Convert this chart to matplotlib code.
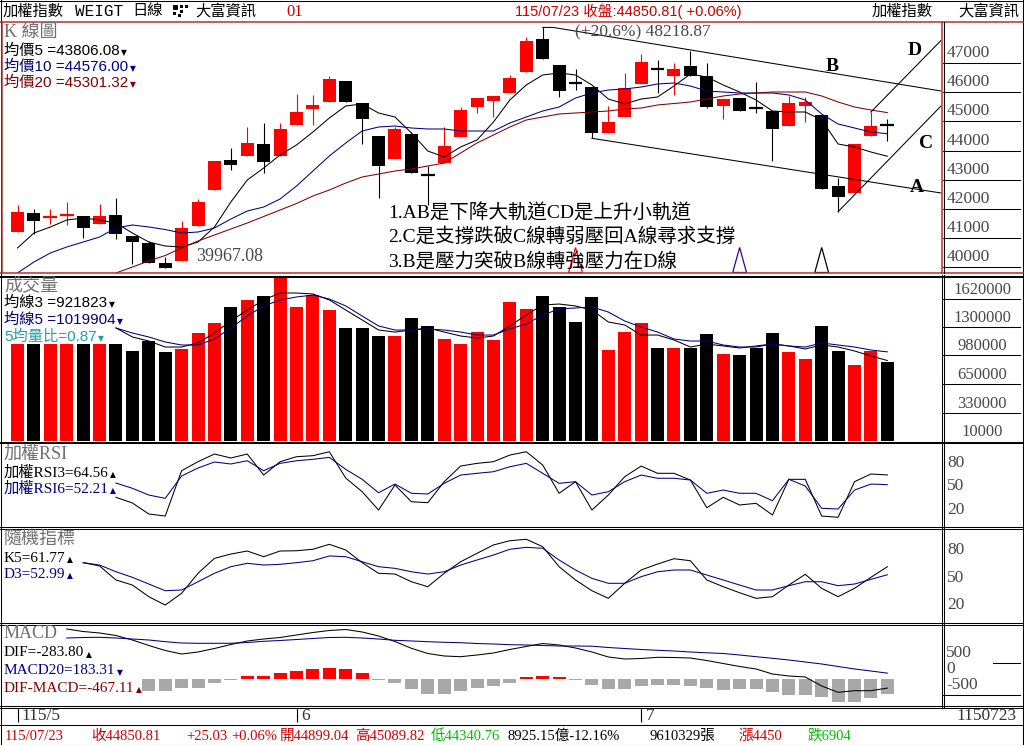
import matplotlib
matplotlib.use('Agg')
import matplotlib.pyplot as plt
from matplotlib.lines import Line2D
from matplotlib.patches import Rectangle, Polygon
from matplotlib.transforms import offset_copy, blended_transform_factory
import numpy as np

# ---------------- data ----------------
opens = [41222, 41862, 41725, 41770, 41760, 41486, 41794, 41075, 40845, 40150,
         40229, 41428, 42650, 43678, 43825, 44226, 43825, 44887, 45414, 45675,
         46384, 45630, 44500, 43702, 44568, 43175, 43585, 44455, 45504, 45709,
         45983, 46702, 47822, 46931, 46360, 46168, 44613, 45161, 46270, 46830,
         46555, 46897, 46555, 45527, 45791, 45470, 45356, 44853, 45527, 45219,
         42787, 42557, 44500, 44899.04]
highs = [42137, 42000, 41990, 42230, 41760, 42171, 42385, 41075, 40914, 40367,
         41589, 42342, 43654, 44078, 44820, 44957, 44957, 45938, 45904, 46555,
         46384, 45630, 44500, 44820, 44650, 43472, 44798, 45481, 45801, 45870,
         46589, 47900, 48218.87, 46931, 46805, 46168, 45527, 46668, 47308, 47100,
         46990, 47421, 46990, 45757, 45791, 46360, 45356, 45870, 45846, 45219,
         43061, 44226, 45322, 45089.82]
lows = [41200, 41143, 41486, 41452, 41000, 41486, 40972, 40116, 40140, 39967.08,
        40229, 41428, 42650, 43335, 43825, 43244, 43825, 44887, 44887, 45675,
        45675, 44226, 42364, 43702, 43222, 42137, 43585, 44455, 45276, 45161,
        45983, 46702, 47127, 45846, 46073, 44421, 44613, 45161, 46270, 45962,
        45904, 46555, 45449, 45072, 45366, 45287, 43654, 44853, 44990, 42674,
        41907, 42557, 44500, 44340.76]
closes = [41897, 41600, 41745, 41790, 41360, 41760, 41143, 40880, 40140, 39990,
          41359, 42250, 43654, 43507, 44270, 43620, 44740, 45322, 45572, 46442,
          45675, 45093, 43483, 44729, 43222, 43140, 44157, 45390, 45801, 45870,
          46476, 47754, 47127, 46051, 46300, 44592, 44990, 46133, 47045, 46790,
          46784, 46555, 45483, 45757, 45366, 45440, 44740, 45630, 45674, 42674,
          42421, 44226, 44825.78, 44850.81]
volumes = [1109000, 1109000, 1109000, 1109000, 1109000, 1109000, 1109000, 1030000, 1143000, 1018000,
           1052000, 1234000, 1348000, 1529000, 1609000, 1654000, 1858000, 1529000, 1665000, 1495000,
           1291000, 1291000, 1200000, 1200000, 1404000, 1314000, 1166000, 1109000, 1245000, 1155000,
           1586000, 1507000, 1654000, 1529000, 1359000, 1643000, 1041000, 1245000, 1348000, 1064000,
           1064000, 1064000, 1223000, 996000, 984000, 1064000, 1234000, 1018000, 939000, 1314000,
           1030000, 871000, 1030000, 905000]

ma5 = [40664, 41178, 41383, 41623, 41691, 41623, 41520, 41178, 40869, 40732,
       40698, 40869, 41383, 42239, 42993, 43404, 43849, 44192, 44637, 45116,
       45527, 45596, 45288, 45151, 44603, 43986, 43781, 44124, 44363, 44979,
       45733, 46247, 46589, 46658, 46589, 46247, 45767, 45596, 45767, 45836,
       46212, 46623, 46521, 46247, 46007, 45733, 45356, 45322, 45322, 45048,
       44226, 44123, 43952, 43806.08]
ma10 = [39808, 40184, 40493, 40698, 40869, 41040, 41349, 41452, 41383, 41297,
        41178, 41212, 41349, 41657, 41931, 42068, 42342, 42787, 43301, 43815,
        44260, 44671, 44808, 44842, 44774, 44740, 44740, 44671, 44671, 44671,
        44945, 45151, 45356, 45493, 45801, 45973, 46075, 46110, 46178, 46281,
        46315, 46212, 46041, 46007, 45973, 45973, 45973, 45904, 45733, 45253,
        44911, 44774, 44637, 44576.00]
ma20 = [39808, 40013, 40219, 40407, 40664, 40904, 41109, 41315, 41520, 41743,
        41965, 42188, 42445, 42650, 42890, 43096, 43198, 43301, 43370, 43472,
        43575, 43918, 44260, 44534, 44808, 45048, 45151, 45253, 45288, 45322,
        45356, 45425, 45459, 45562, 45613, 45664, 45767, 45870, 45938, 45973,
        46007, 46007, 46007, 45870, 45664, 45493, 45390, 45301.32]          # from bar 7
vol_ma3 = [1291000, 1189000, 1143000, 1075000, 1075000, 1121000, 1234000, 1370000, 1495000, 1609000,
           1688000, 1688000, 1677000, 1609000, 1495000, 1382000, 1268000, 1245000, 1268000, 1291000,
           1245000, 1200000, 1177000, 1200000, 1314000, 1438000, 1552000, 1563000, 1541000, 1495000,
           1359000, 1325000, 1211000, 1211000, 1155000, 1075000, 1109000, 1087000, 1064000, 1087000,
           1109000, 1087000, 1053000, 1098000, 1075000, 1030000, 973000, 921823]      # from bar 7
vol_ma5 = [1291000, 1234000, 1189000, 1132000, 1098000, 1098000, 1166000, 1291000, 1427000, 1541000,
           1609000, 1643000, 1665000, 1620000, 1541000, 1427000, 1314000, 1268000, 1268000, 1280000,
           1268000, 1245000, 1211000, 1211000, 1280000, 1336000, 1438000, 1507000, 1518000, 1530000,
           1472000, 1370000, 1302000, 1245000, 1166000, 1143000, 1143000, 1098000, 1075000, 1075000,
           1109000, 1087000, 1075000, 1121000, 1098000, 1075000, 1041000, 1019904]   # from bar 7
rsi3 = [36.2, 29.0, 15.1, 12.5, 69.9, 81.3, 91.0, 86.0, 91.0, 64.4,
        81.3, 87.6, 88.9, 93.9, 60.6, 43.3, 20.1, 51.8, 30.6, 29.4,
        56.0, 75.8, 79.2, 81.3, 89.7, 93.9, 77.1, 41.3, 56.0, 20.1,
        39.1, 62.3, 75.8, 66.6, 66.6, 58.1, 23.0, 36.2, 26.5, 28.6,
        13.8, 59.0, 59.0, 12.5, 10.9, 56.0, 65.7, 64.56]                    # from bar 7
rsi6 = [54.3, 47.6, 39.1, 34.9, 63.2, 73.3, 80.9, 78.4, 82.5, 69.9,
        79.2, 82.5, 84.3, 86.8, 71.6, 59.0, 42.0, 53.0, 41.3, 40.4,
        53.9, 64.4, 66.6, 68.6, 74.9, 79.2, 66.6, 53.9, 56.0, 39.1,
        43.3, 56.0, 64.4, 60.3, 60.3, 58.1, 41.3, 45.4, 41.3, 41.3,
        31.9, 59.0, 50.5, 22.3, 21.4, 45.4, 53.0, 52.21]                    # from bar 7
k5 = [66.2, 62.6, 47.3, 41.8, 29.1, 20.0, 32.8, 54.6, 70.9, 75.6,
      78.9, 72.7, 78.9, 79.2, 80.8, 86.2, 80.0, 66.2, 54.6, 53.8,
      45.4, 40.0, 54.6, 67.2, 76.4, 85.5, 90.1, 91.7, 83.6, 61.8,
      47.3, 35.6, 27.3, 43.7, 58.2, 64.7, 70.5, 68.3, 47.3, 40.0,
      33.4, 27.3, 29.1, 41.8, 53.5, 38.2, 29.1, 38.2, 50.2, 61.77]          # from bar 5
d3 = [66.2, 63.6, 56.3, 50.2, 42.9, 35.6, 36.4, 45.4, 54.6, 61.8,
      65.5, 63.6, 64.4, 66.2, 68.3, 73.5, 72.7, 67.2, 61.8, 60.0,
      56.3, 53.8, 56.3, 63.6, 69.1, 74.5, 80.8, 82.9, 81.9, 69.1,
      58.2, 49.1, 43.7, 43.7, 50.9, 56.3, 58.2, 58.2, 52.7, 47.3,
      41.8, 36.4, 36.4, 41.1, 45.4, 45.4, 41.1, 42.9, 48.0, 52.99]          # from bar 5
dif = [1563, 1484, 1438, 1359, 1219, 1047, 891, 781, 844, 953,
       1078, 1188, 1250, 1297, 1375, 1453, 1516, 1547, 1469, 1344,
       1172, 959, 797, 719, 697, 750, 813, 922, 1016, 1109,
       1063, 969, 844, 688, 625, 641, 678, 672, 656, 578,
       484, 391, 313, 156, 94, 63, -219, -416, -366, -366, -283.80]          # from bar 4
macd20 = [1281, 1297, 1303, 1281, 1250, 1219, 1166, 1125, 1116, 1116,
          1116, 1141, 1178, 1203, 1234, 1266, 1297, 1303, 1281, 1250,
          1209, 1188, 1166, 1147, 1134, 1109, 1094, 1072, 1063, 1047,
          1031, 1031, 1025, 984, 953, 922, 897, 875, 844, 819,
          797, 750, 697, 647, 594, 531, 469, 391, 313, 250, 183.31]         # from bar 4
osc = [-365, -365, -292, -271, -115, -30, 104, 104, 177, 260,
       302, 344, 302, 198, -30, -135, -313, -469, -469, -365,
       -292, -219, -135, 52, 94, 52, -30, -188, -313, -313,
       -208, -188, -188, -208, -292, -344, -323, -323, -396, -500,
       -500, -573, -729, -708, -604, -467.11]                               # from bar 9

price_ticks = [40000, 41000, 42000, 43000, 44000, 45000, 46000, 47000]
volume_ticks = [10000, 330000, 650000, 980000, 1300000, 1620000]
rsi_ticks = [20, 50, 80]
kd_ticks = [20, 50, 80]
macd_ticks = [-500, 0, 500]
date_tick_idx = [0, 17, 38]
date_tick_labels = ['115/5', '6', '7']

# hand-drawn trend lines: (bar index, price) end points
line_B = ([32, 32.63, 56.27], [48218.87, 48218.87, 46041])
line_A = ([35, 56.27], [44421, 42548])
line_C = ([50, 56.27], [41907, 45527])
line_D = ([52, 56.27], [45322, 47771])
line_labels = [('B', 49.63, 46897), ('D', 54.69, 47445), ('C', 55.36, 44226), ('A', 54.81, 42719)]
marker_idx = [34, 44, 49]
marker_cols = ['#FF0000', '#400080', '#000000']
notes = ['1.AB是下降大軌道CD是上升小軌道',
         '2.C是支撐跌破C線轉弱壓回A線尋求支撐',
         '3.B是壓力突破B線轉強壓力在D線']

# ---------------- figure ----------------
W, H = 1024, 745
fig = plt.figure(figsize=(W / 100, H / 100), dpi=100)
fig.patch.set_facecolor('white')

SERIF = ['Liberation Serif', 'Noto Sans CJK TC', 'DejaVu Sans']
SANS = ['Liberation Sans', 'Noto Sans CJK TC', 'DejaVu Sans']
MONO = ['Liberation Mono', 'Noto Sans CJK TC', 'DejaVu Sans']
CJK = ['Noto Sans CJK TC', 'DejaVu Sans']
RED = '#FF0000'
NAVY = '#000080'
DRED = '#800000'
TITLEG = '#707070'
LAB = '#484848'
FRAME_RED = '#B83030'
XLIM = (-0.945, 56.27)


def px_axes(x0, y0, x1, y1):
    ax = fig.add_axes([x0 / W, 1 - y1 / H, (x1 - x0) / W, (y1 - y0) / H])
    ax.set_xticks([])
    ax.set_yticks([])
    for s in ax.spines.values():
        s.set_visible(False)
    ax.patch.set_alpha(0)
    return ax


def fline(xs, ys, color='black', lw=0.75):
    fig.add_artist(Line2D([x / W for x in xs], [1 - y / H for y in ys],
                          color=color, lw=lw, transform=fig.transFigure))


def ftext(x, y, s, **kw):
    kw.setdefault('va', 'center')
    kw.setdefault('ha', 'left')
    return fig.text(x / W, 1 - y / H, s, **kw)


legend_marks = []


def legend(x, y, s, color, mark=None, size=11, family=SANS):
    t = ftext(x, y, s, color=color, fontsize=size, family=family)
    if mark:
        legend_marks.append((t, mark, color))
    return t


idx = np.arange(len(closes))
o_arr = np.array(opens, float)
c_arr = np.array(closes, float)
up = c_arr >= o_arr
cols = np.where(up, RED, 'black')

# ---------- K panel ----------
axk = px_axes(2, 22.5, 941, 272.5)
axk.set_xlim(XLIM)
axk.set_ylim(39825, 48387)
axk.vlines(idx, lows, highs, colors=cols, lw=0.8, zorder=2)
body_lo = np.minimum(o_arr, c_arr)
body_h = np.abs(c_arr - o_arr)
doji = body_h <= 60
axk.bar(idx[~doji], body_h[~doji], bottom=body_lo[~doji], width=0.79,
        color=cols[~doji], linewidth=0, zorder=3)
axk.hlines((o_arr[doji] + c_arr[doji]) / 2, idx[doji] - 0.42, idx[doji] + 0.42,
           colors=cols[doji], lw=1.6, zorder=3)
axk.plot(idx, ma5, color='black', lw=0.75, zorder=4)
axk.plot(idx, ma10, color=NAVY, lw=0.75, zorder=4)
axk.plot(idx[6:], ma20, color=DRED, lw=0.75, zorder=4)
for ln in (line_B, line_A, line_C, line_D):
    axk.plot(ln[0], ln[1], color='black', lw=0.75, zorder=5)
for lab, lx, ly in line_labels:
    axk.text(lx, ly, lab, family=SERIF, fontsize=14, fontweight='bold',
             ha='center', va='center', zorder=6)
tb = blended_transform_factory(axk.transData, axk.transAxes)
for mi, mc in zip(marker_idx, marker_cols):
    axk.add_patch(Polygon([(mi - 0.42, 0.0), (mi, 0.1), (mi + 0.42, 0.0)], closed=True,
                          fill=False, edgecolor=mc, lw=0.9, transform=tb, zorder=5))
axk.text(10.88, 40356, '39967.08', family=SERIF, fontsize=13, color=LAB,
         ha='left', va='center', zorder=6)
axk.text(33.97, 48060, '(+20.6%) 48218.87', family=SERIF, fontsize=12.5, color=LAB,
         ha='left', va='center', zorder=6)
for k, s in enumerate(notes):
    ftext(388, 213 + 24.5 * k, s, family=SERIF, fontsize=14, color='black', zorder=10)

legend(4, 33, 'K 線圖', TITLEG, size=13, family=SERIF)
legend(4, 51, '均價5 =43806.08', 'black', '▼')
legend(4, 67, '均價10 =44576.00', NAVY, '▼')
legend(4, 83, '均價20 =45301.32', DRED, '▼')

# ---------- volume panel ----------
axv = px_axes(2, 277.5, 941, 441)
axv.set_xlim(XLIM)
axv.set_ylim(8300, 1864000)
axv.bar(idx, volumes, width=0.79, color=cols, linewidth=0, zorder=2)
axv.plot(idx[6:], vol_ma3, color='black', lw=0.75, zorder=3)
axv.plot(idx[6:], vol_ma5, color=NAVY, lw=0.75, zorder=3)
legend(4, 286, '成交量', TITLEG, size=13, family=SERIF)
legend(4, 303, '均線3 =921823', 'black', '▼')
legend(4, 320, '均線5 =1019904', NAVY, '▼')
legend(4, 337, '5均量比=0.87', '#1FA0A8', '▼')

# ---------- RSI panel ----------
axr = px_axes(2, 444, 941, 526)
axr.set_xlim(XLIM)
axr.set_ylim(-0.1, 103.7)
axr.plot(idx[6:], rsi3, color='black', lw=0.75)
axr.plot(idx[6:], rsi6, color=NAVY, lw=0.75)
legend(4, 454, '加權RSI', TITLEG, size=13, family=SERIF)
legend(4, 472.5, '加權RSI3=64.56', 'black', '▲', family=SERIF)
legend(4, 489, '加權RSI6=52.21', NAVY, '▲', family=SERIF)

# ---------- KD panel ----------
axd = px_axes(2, 529, 941, 622)
axd.set_xlim(XLIM)
axd.set_ylim(1.5, 102.9)
axd.plot(idx[4:], k5, color='black', lw=0.75)
axd.plot(idx[4:], d3, color=NAVY, lw=0.75)
legend(4, 539.5, '隨機指標', TITLEG, size=13, family=SERIF)
legend(4, 558, 'K5=61.77', 'black', '▲', family=SERIF)
legend(4, 574, 'D3=52.99', NAVY, '▲', family=SERIF)

# ---------- MACD panel ----------
axm = px_axes(2, 625, 941, 705)
axm.set_xlim(XLIM)
axm.set_ylim(-812.5, 1687.5)
osc_arr = np.array(osc)
axm.bar(idx[8:], osc_arr, width=0.79, color=np.where(osc_arr > 0, RED, '#A8A8A8'),
        linewidth=0, zorder=2)
axm.plot(idx[3:], dif, color='black', lw=0.75, zorder=3)
axm.plot(idx[3:], macd20, color=NAVY, lw=0.75, zorder=3)
legend(4, 634, 'MACD', TITLEG, size=13, family=SERIF)
legend(4, 653, 'DIF=-283.80', 'black', '▲', family=SERIF)
legend(4, 671, 'MACD20=183.31', NAVY, '▼', family=SERIF)
legend(4, 688, 'DIF-MACD=-467.11', DRED, '▲', family=SERIF)

# ---------- right-hand scale columns ----------
def rcol(y0, y1, ylim):
    a = px_axes(943, y0, 1021, y1)
    a.set_xlim(0, 1)
    a.set_ylim(ylim)
    return a


rk = rcol(22.5, 272.5, axk.get_ylim())
up10 = offset_copy(rk.transData, fig=fig, x=0, y=10, units='dots')
for v in price_ticks:
    rk.axhline(v, color='black', lw=0.75)
    rk.text(0.05, v, str(v), transform=up10, family=SERIF, fontsize=12.5, color=LAB,
            ha='left', va='center')

rv = rcol(277.5, 441, axv.get_ylim())
up9 = offset_copy(rv.transData, fig=fig, x=0, y=9, units='dots')
for v in volume_ticks:
    rv.axhline(v, color='black', lw=0.75)
    rv.text(0.5, v, str(v), transform=up9, family=SERIF, fontsize=12, color=LAB,
            ha='center', va='center')

rr = rcol(444, 526, axr.get_ylim())
for v in rsi_ticks:
    rr.text(0.05, v, str(v), family=SERIF, fontsize=12.5, color=LAB, ha='left', va='center')

rd = rcol(529, 622, axd.get_ylim())
for v in kd_ticks:
    rd.text(0.05, v, str(v), family=SERIF, fontsize=12.5, color=LAB, ha='left', va='center')

rm = rcol(625, 705, axm.get_ylim())
upm = offset_copy(rm.transData, fig=fig, x=0, y=10, units='dots')
for v in macd_ticks:
    rm.text(0.04, v, str(v), transform=upm, family=SERIF, fontsize=12.5, color=LAB,
            ha='left', va='center')
rm.plot([0.64, 1.0], [500, 500], color='black', lw=0.75)
rm.axhline(-500, color='black', lw=0.75)

# ---------- date row ----------
axt = px_axes(2, 707.5, 941, 724)
axt.set_xlim(XLIM)
axt.set_ylim(0, 1)
axt.vlines(date_tick_idx, 0.1, 1.0, color='black', lw=0.8)
for i, s in zip(date_tick_idx, date_tick_labels):
    axt.text(i + 0.27, 0.5, s, family=SERIF, fontsize=12.5, color='#333333',
             ha='left', va='center')
ftext(956, 716, '1150723', family=SERIF, fontsize=12.5, color='#333333')

# ---------- frame lines ----------
fline([0, 1023], [0.5, 0.5])
fline([0.5, 0.5], [0, 745])
fline([1022.5, 1022.5], [0, 745])
fline([0, 1023], [744.5, 744.5])
fline([0, 1023], [22, 22], color=FRAME_RED, lw=1.1)
fline([1.5, 1.5], [22, 273], color=FRAME_RED, lw=1.1)
fline([941.5, 941.5], [22, 273], color=FRAME_RED, lw=1.1)
fline([0, 1023], [272.8, 272.8], color=FRAME_RED, lw=1.1)
fline([943.5, 943.5], [22, 273])
for yy in (275.5, 277.3, 441.5, 443.5, 526.5, 528.5, 622.5, 624.5, 705.5, 707.5, 724.5):
    fline([0, 1023], [yy, yy])
fline([941.5, 941.5], [275, 707.5])
fline([943.5, 943.5], [275, 707.5])

# ---------- header ----------
ftext(3, 11, '加權指數', family=CJK, fontsize=11)
ftext(75, 11.5, 'WEIGT', family=MONO, fontsize=11.5)
ftext(132, 11, '日線', family=CJK, fontsize=11)
for (rx, ry, rw, rh) in [(173, 5, 5, 5), (180, 5, 3, 3), (185, 5, 3, 3),
                         (180, 10, 3, 3), (173, 12, 3, 3), (178, 14, 3, 3)]:
    fig.add_artist(Rectangle((rx / W, 1 - (ry + rh) / H), rw / W, rh / H,
                             transform=fig.transFigure, color='black', lw=0))
ftext(195, 11, '大富資訊', family=CJK, fontsize=11)
ftext(286, 11.5, '01', family=SERIF, fontsize=12, color='#CC0000')
ftext(515, 11, '115/07/23 收盤:44850.81( +0.06%)', family=SANS, fontsize=10.5, color='#CC0000')
ftext(872, 11, '加權指數', family=CJK, fontsize=11)
ftext(958, 11, '大富資訊', family=CJK, fontsize=11)

# ---------- status row ----------
status = [(5, '115/07/23', '#CC0000'), (91, '收44850.81', '#CC0000'), (186, '+25.03', '#CC0000'),
          (231, '+0.06%', '#CC0000'), (280, '開44899.04', '#CC0000'), (355, '高45089.82', '#CC0000'),
          (431, '低44340.76', '#00C000'), (508, '8925.15億-12.16%', 'black'),
          (650, '9610329張', 'black'), (738, '漲4450', '#CC0000'), (807, '跌6904', '#00C000')]
for sx, s, sc in status:
    ftext(sx, 736, s, family=SERIF, fontsize=10.5, color=sc)

# ---------- legend markers placed after their texts ----------
renderer = fig.canvas.get_renderer()
for t, m, c in legend_marks:
    bb = t.get_window_extent(renderer)
    fig.text((bb.x1 + 1.5) / W, (bb.y0 + 0.38 * bb.height) / H, m, color=c, fontsize=5.5,
             family='DejaVu Sans', ha='left', va='center')

fig.savefig('out.png', dpi=100)
